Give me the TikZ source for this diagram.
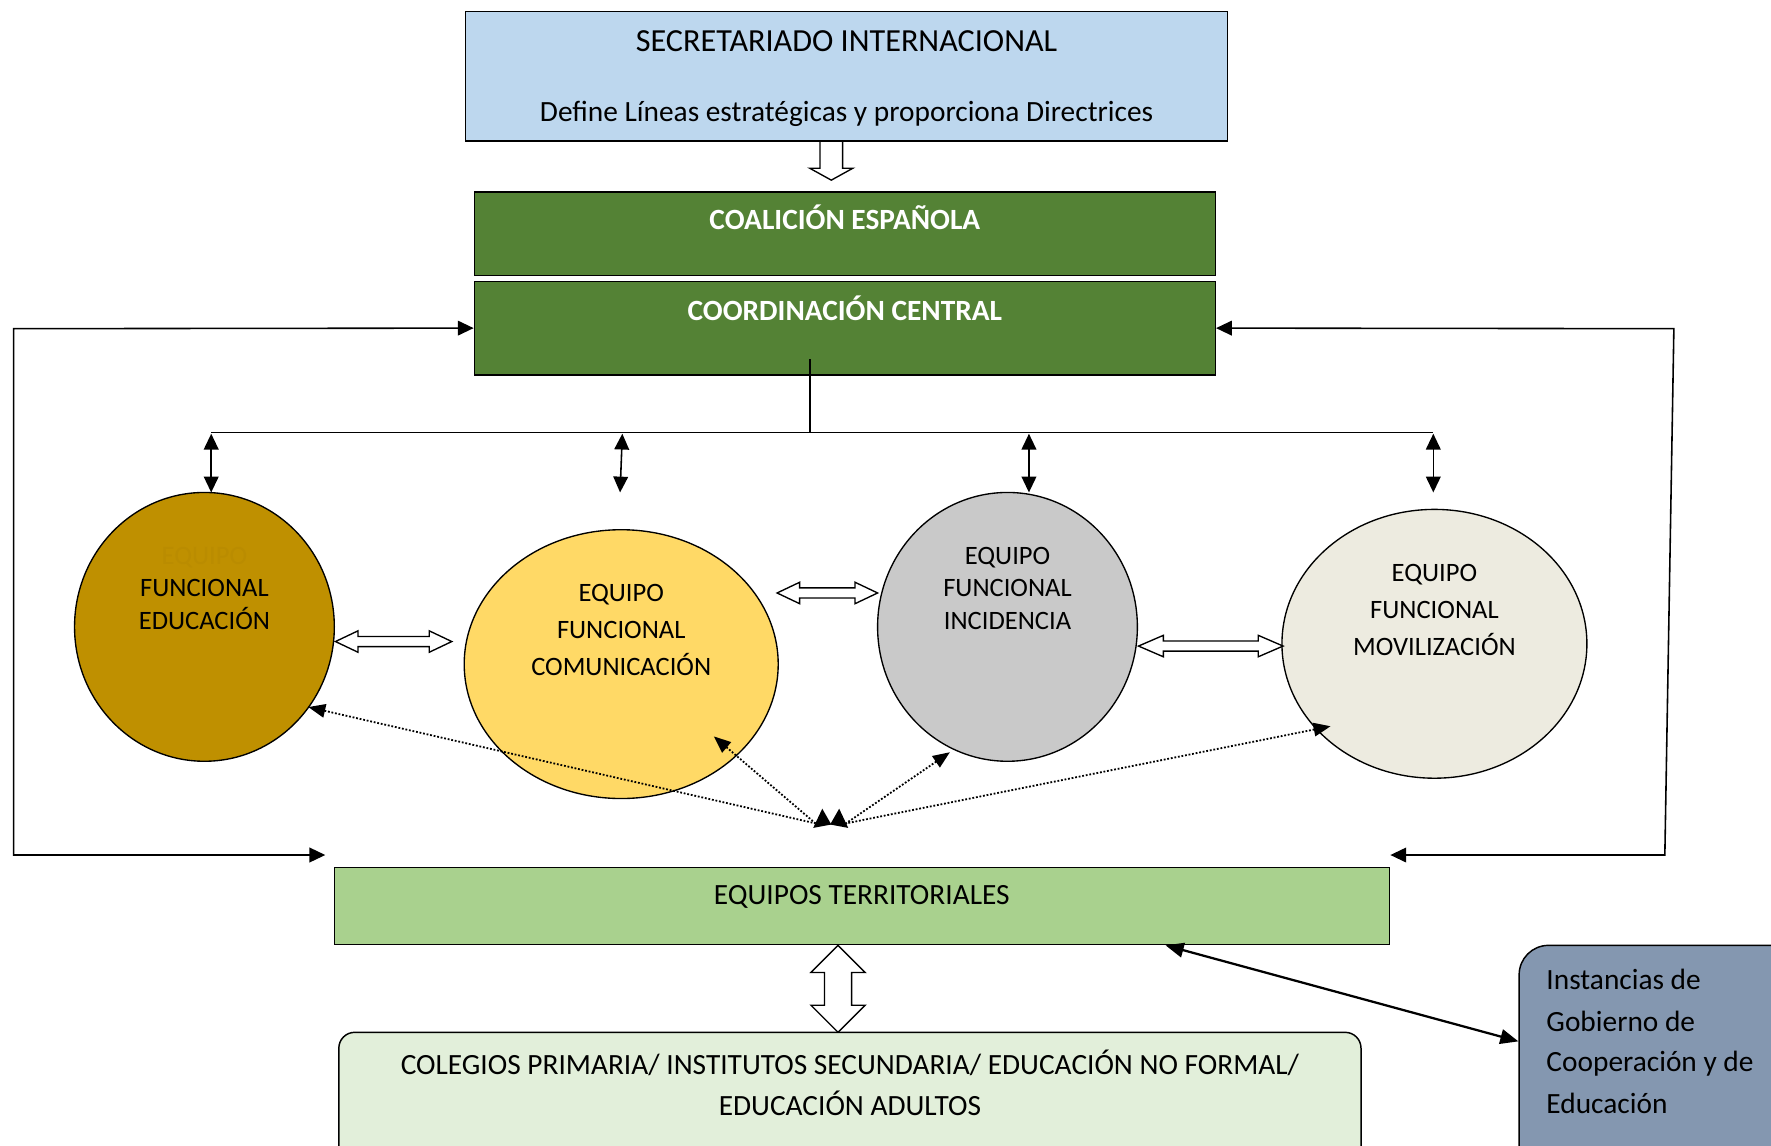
\documentclass[tikz,border=0pt]{standalone}
\usepackage{fontspec}
\setmainfont{Carlito}
\usetikzlibrary{arrows.meta,shapes.geometric}
\definecolor{secblue}{HTML}{BDD7EE}
\definecolor{dgreen}{HTML}{548235}
\definecolor{lgreen}{HTML}{A9D18E}
\definecolor{pgreen}{HTML}{E2EFDA}
\definecolor{slate}{HTML}{8497B0}
\definecolor{gold}{HTML}{BF9000}
\definecolor{faintgold}{HTML}{BA8C00}
\definecolor{yell}{HTML}{FFD966}
\definecolor{grey}{HTML}{C9C9C9}
\definecolor{cream}{HTML}{EDEBE0}
% hollow double arrow, horizontal: x1, x2, y, shaft half, head half, head length
\newcommand{\hollowH}[6]{%
  \draw[hollow] (#1,#3) -- (#1+#6,#3-#5) -- (#1+#6,#3-#4) -- (#2-#6,#3-#4) -- (#2-#6,#3-#5)
    -- (#2,#3) -- (#2-#6,#3+#5) -- (#2-#6,#3+#4) -- (#1+#6,#3+#4) -- (#1+#6,#3+#5) -- cycle;}
% hollow double arrow, vertical: y1, y2, x, shaft half, head half, head length
\newcommand{\hollowV}[6]{%
  \draw[hollow] (#3,#1) -- (#3-#5,#1+#6) -- (#3-#4,#1+#6) -- (#3-#4,#2-#6) -- (#3-#5,#2-#6)
    -- (#3,#2) -- (#3+#5,#2-#6) -- (#3+#4,#2-#6) -- (#3+#4,#1+#6) -- (#3+#5,#1+#6) -- cycle;}
\begin{document}
\begin{tikzpicture}[x=1pt,y=-1pt,
  box/.style={draw, rectangle, line width=1.3pt, inner sep=0pt},
  ell/.style={draw, ellipse, line width=1.2pt, inner sep=0pt},
  hdr/.style={font=\fontsize{26}{30}\selectfont, inner sep=0pt, anchor=base},
  wtxt/.style={font=\fontsize{26}{30}\selectfont\bfseries, text=white, inner sep=0pt, anchor=base},
  etxt/.style={font=\fontsize{23.5}{28}\selectfont, inner sep=0pt, anchor=base},
  conn/.style={line width=1.4pt},
  tipboth/.style={{Triangle[length=14pt,width=13pt]}-{Triangle[length=14pt,width=13pt]}},
  dots/.style={line width=1.6pt, dash pattern=on 1.6pt off 1.6pt, {Triangle[length=15pt,width=12pt]}-},
  hollow/.style={draw, fill=white, line width=1.2pt, line join=miter},
]
\useasboundingbox (0,0) rectangle (1568,1014);

% top boxes
\node[box, fill=secblue, minimum width=675pt, minimum height=115pt] (sec) at (749.5,67.5) {};
\node[hdr, font=\fontsize{28.5}{32}\selectfont] (sect1) at (749.5,46) {SECRETARIADO INTERNACIONAL};
\node[hdr] (sect2) at (749.5,108) {Define Líneas estratégicas y proporciona Directrices};

% hollow arrow down
\draw[hollow] (726,125) -- (746,125) -- (746,149) -- (755,149) -- (736,159.5) -- (717,149) -- (726,149) -- cycle;

\node[box, fill=dgreen, minimum width=656pt, minimum height=74pt] (coal) at (748,207) {};
\node[wtxt] (coalt) at (748,203.5) {COALICIÓN ESPAÑOLA};
\node[box, fill=dgreen, minimum width=656pt, minimum height=83pt] (coord) at (748,290.5) {};
\node[wtxt] (coordt) at (748,283.5) {COORDINACIÓN CENTRAL};

% ellipses
\node[ell, fill=gold, minimum width=230pt, minimum height=238pt] (edu) at (181,555) {};
\node[ell, fill=yell, minimum width=278pt, minimum height=238pt] (com) at (550,588) {};
\node[ell, fill=grey, minimum width=230pt, minimum height=238pt] (inc) at (892,555) {};
\node[ell, fill=cream, minimum width=270pt, minimum height=238pt] (mov) at (1270,570) {};

\node[etxt, text=faintgold] (edu0) at (181,499.5) {EQUIPO};
\node[etxt] (edu1) at (181,528.5) {FUNCIONAL};
\node[etxt] (edu2) at (181,557.5) {EDUCACIÓN};
\node[etxt] (com1) at (550,532.5) {EQUIPO};
\node[etxt] (com2) at (550,565.5) {FUNCIONAL};
\node[etxt] (com3) at (550,598.5) {COMUNICACIÓN};
\node[etxt] (inc1) at (892,499.5) {EQUIPO};
\node[etxt] (inc2) at (892,528.5) {FUNCIONAL};
\node[etxt] (inc3) at (892,557.5) {INCIDENCIA};
\node[etxt] (mov1) at (1270,514.5) {EQUIPO};
\node[etxt] (mov2) at (1270,547.5) {FUNCIONAL};
\node[etxt] (mov3) at (1270,580.5) {MOVILIZACIÓN};

% bus from coordination
\coordinate (busT) at (717,318);
\coordinate (busM) at (717,383);
\coordinate (busL) at (187,383);
\coordinate (busR) at (1269,383);
\draw[conn] (busT) -- (busM);
\draw[conn] (busL) -- (busR);
\coordinate (v1a) at (187,384); \coordinate (v1b) at (187,436);
\coordinate (v2a) at (551,384); \coordinate (v2b) at (549,436);
\coordinate (v3a) at (911,384); \coordinate (v3b) at (911,436);
\coordinate (v4a) at (1269,384); \coordinate (v4b) at (1269,436);
\draw[conn, tipboth] (v1a) -- (v1b);
\draw[conn, tipboth] (v2a) -- (v2b);
\draw[conn, tipboth] (v3a) -- (v3b);
\draw[conn, tipboth] (v4a) -- (v4b);

% hollow double arrows between teams
\hollowH{297}{400}{568}{4.5}{9.5}{20}
\hollowH{688}{777}{525}{4.5}{9.5}{20}
\hollowH{1008}{1136}{572}{4.5}{9.5}{22}

% dotted arrows
\coordinate (dL) at (722,729);
\coordinate (dR) at (749,729);
\coordinate (pe) at (273,626);
\coordinate (pc) at (632,652);
\coordinate (pi) at (841,666);
\coordinate (pm) at (1178,643);
\draw[dots] (pe) -- (dL);
\draw[dots] (pc) -- (dL);
\draw[dots] (pi) -- (dR);
\draw[dots] (pm) -- (dR);
\fill (720,733) -- (728,716) -- (736,730) -- cycle;
\fill (735,730) -- (743,716) -- (751,733) -- cycle;

% territorial teams
\node[box, fill=lgreen, minimum width=934pt, minimum height=68pt] (terr) at (763,802) {};
\node[hdr] (terrt) at (763,801) {EQUIPOS TERRITORIALES};

% feedback loops
\coordinate (lt) at (288,757);
\coordinate (rt) at (1231,757);
\draw[conn, tipboth] (coord.west) -- (12,291) -- (12,757) -- (lt);
\draw[conn, tipboth] (coord.east) -- (1482,291) -- (1474,757) -- (rt);

% vertical hollow arrow
\hollowV{837}{914}{742}{12}{24}{24}

% bottom boxes (cut by the page edge)
\begin{scope}
\clip (0,0) rectangle (1568,1014);
\node[box, rounded corners=14pt, fill=pgreen, minimum width=905pt, minimum height=146pt] (col) at (752.5,987) {};
\node[box, rounded corners=26pt, fill=slate, minimum width=255pt, minimum height=223pt] (inst) at (1472.5,948.5) {};
\end{scope}
\node[hdr] (col1) at (752.5,951) {COLEGIOS PRIMARIA/ INSTITUTOS SECUNDARIA/ EDUCACIÓN NO FORMAL/};
\node[hdr] (col2) at (752.5,988) {EDUCACIÓN ADULTOS};
\node[hdr, anchor=base west] (i1) at (1369,876) {Instancias de};
\node[hdr, anchor=base west] (i2) at (1369,913) {Gobierno de};
\node[hdr, anchor=base west] (i3) at (1369,949) {Cooperación y de};
\node[hdr, anchor=base west] (i4) at (1369,986) {Educación};

% link to government bodies
\coordinate (tg) at (1032,837);
\draw[line width=2pt, {Triangle[length=16pt,width=13pt]}-{Triangle[length=16pt,width=13pt]}] (tg) -- (inst.west |- 0,922);
\end{tikzpicture}
\end{document}
